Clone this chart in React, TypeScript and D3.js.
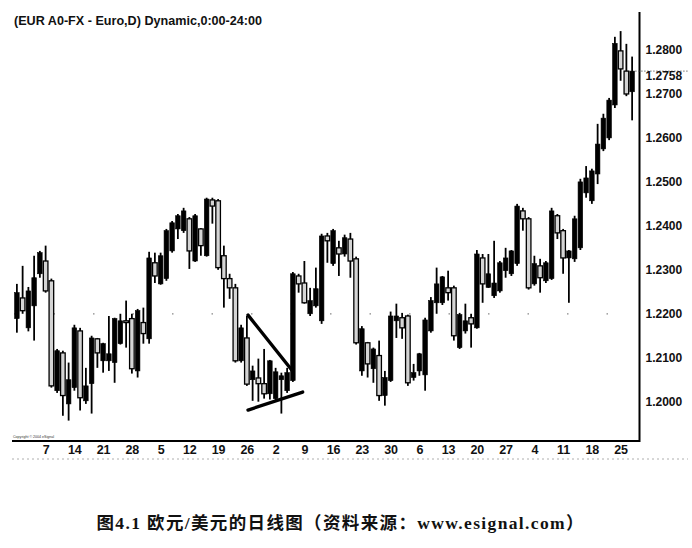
import React, { useEffect, useRef } from "react";
import * as d3 from "d3";

const W = 692;
const H = 548;

// EUR/USD daily, 2004-05-31 .. 2004-10-27
const opens = [
  1.2189, 1.2236, 1.2168, 1.2218, 1.2291, 1.2320, 1.2275, 1.2025, 1.2111, 1.1995,
  1.2032, 1.2161, 1.2002, 1.2041, 1.2143, 1.2093, 1.2093, 1.2089, 1.2132, 1.2184,
  1.2189, 1.2070, 1.2180, 1.2143, 1.2316, 1.2268, 1.2280, 1.2343, 1.2393, 1.2389,
  1.2416, 1.2320, 1.2393, 1.2332, 1.2459, 1.2457, 1.2332, 1.2280, 1.2259, 1.2093,
  1.2145, 1.2050, 1.2054, 1.2041, 1.2018, 1.2007, 1.2050, 1.2025, 1.2048, 1.2286,
  1.2270, 1.2200, 1.2218, 1.2184, 1.2377, 1.2314, 1.2350, 1.2336, 1.2370, 1.2325,
  1.2070, 1.2134, 1.2075, 1.2105, 1.2014, 1.2048, 1.2184, 1.2191, 1.2195, 1.2055,
  1.2070, 1.2061, 1.2161, 1.2225, 1.2225, 1.2259, 1.2259, 1.2123, 1.2161, 1.2191,
  1.2168, 1.2327, 1.2260, 1.2241, 1.2252, 1.2298, 1.2291, 1.2314, 1.2434, 1.2416,
  1.2268, 1.2309, 1.2275, 1.2280, 1.2423, 1.2389, 1.2327, 1.2325, 1.2350, 1.2475,
  1.2457, 1.2518, 1.2575, 1.2600, 1.2675, 1.2798, 1.2752, 1.2705,
];
const highs = [
  1.2268, 1.2309, 1.2261, 1.2332, 1.2343, 1.2355, 1.2280, 1.2120, 1.2116, 1.2089,
  1.2175, 1.2168, 1.2077, 1.2150, 1.2145, 1.2134, 1.2195, 1.2191, 1.2200, 1.2230,
  1.2200, 1.2211, 1.2214, 1.2341, 1.2339, 1.2339, 1.2393, 1.2411, 1.2427, 1.2441,
  1.2420, 1.2427, 1.2395, 1.2464, 1.2464, 1.2461, 1.2355, 1.2291, 1.2268, 1.2175,
  1.2195, 1.2082, 1.2098, 1.2120, 1.2095, 1.2077, 1.2066, 1.2077, 1.2295, 1.2291,
  1.2320, 1.2259, 1.2305, 1.2382, 1.2384, 1.2393, 1.2366, 1.2380, 1.2384, 1.2330,
  1.2172, 1.2136, 1.2123, 1.2139, 1.2070, 1.2205, 1.2223, 1.2202, 1.2198, 1.2086,
  1.2111, 1.2191, 1.2238, 1.2305, 1.2286, 1.2298, 1.2264, 1.2202, 1.2223, 1.2200,
  1.2345, 1.2336, 1.2336, 1.2366, 1.2320, 1.2350, 1.2345, 1.2450, 1.2441, 1.2420,
  1.2332, 1.2325, 1.2320, 1.2441, 1.2427, 1.2393, 1.2345, 1.2423, 1.2507, 1.2536,
  1.2530, 1.2632, 1.2655, 1.2691, 1.2830, 1.2843, 1.2814, 1.2785,
];
const lows = [
  1.2157, 1.2200, 1.2160, 1.2139, 1.2282, 1.2248, 1.2032, 1.2020, 1.1968, 1.1957,
  1.2025, 1.1980, 1.1995, 1.1973, 1.2077, 1.2066, 1.2070, 1.2043, 1.2130, 1.2123,
  1.2064, 1.2055, 1.2132, 1.2132, 1.2270, 1.2266, 1.2275, 1.2339, 1.2370, 1.2384,
  1.2302, 1.2318, 1.2332, 1.2330, 1.2405, 1.2300, 1.2214, 1.2234, 1.2089, 1.2089,
  1.2036, 1.2002, 1.2000, 1.2007, 1.2005, 1.2002, 1.1973, 1.2020, 1.2045, 1.2248,
  1.2223, 1.2195, 1.2214, 1.2177, 1.2316, 1.2309, 1.2286, 1.2330, 1.2282, 1.2130,
  1.2059, 1.2055, 1.2043, 1.2002, 1.1991, 1.2045, 1.2145, 1.2143, 1.2036, 1.2048,
  1.2059, 1.2025, 1.2157, 1.2200, 1.2220, 1.2230, 1.2139, 1.2120, 1.2155, 1.2123,
  1.2166, 1.2225, 1.2259, 1.2236, 1.2248, 1.2282, 1.2286, 1.2309, 1.2389, 1.2255,
  1.2264, 1.2248, 1.2270, 1.2277, 1.2370, 1.2291, 1.2225, 1.2318, 1.2345, 1.2464,
  1.2450, 1.2495, 1.2570, 1.2595, 1.2668, 1.2730, 1.2695, 1.2640,
];
const closes = [
  1.2248, 1.2207, 1.2252, 1.2282, 1.2339, 1.2252, 1.2036, 1.2116, 1.2014, 1.2050,
  1.2168, 1.2009, 1.2036, 1.2145, 1.2111, 1.2132, 1.2109, 1.2189, 1.2184, 1.2180,
  1.2075, 1.2207, 1.2155, 1.2327, 1.2286, 1.2332, 1.2389, 1.2407, 1.2423, 1.2434,
  1.2343, 1.2423, 1.2355, 1.2461, 1.2445, 1.2305, 1.2280, 1.2259, 1.2093, 1.2168,
  1.2040, 1.2070, 1.2041, 1.2018, 1.2093, 1.2068, 1.2059, 1.2066, 1.2291, 1.2268,
  1.2225, 1.2230, 1.2257, 1.2377, 1.2366, 1.2389, 1.2336, 1.2373, 1.2320, 1.2134,
  1.2166, 1.2086, 1.2120, 1.2014, 1.2055, 1.2195, 1.2195, 1.2168, 1.2043, 1.2066,
  1.2109, 1.2186, 1.2230, 1.2268, 1.2284, 1.2248, 1.2150, 1.2198, 1.2184, 1.2177,
  1.2336, 1.2268, 1.2291, 1.2270, 1.2316, 1.2327, 1.2343, 1.2445, 1.2416, 1.2259,
  1.2314, 1.2282, 1.2316, 1.2434, 1.2384, 1.2327, 1.2343, 1.2416, 1.2500, 1.2509,
  1.2525, 1.2586, 1.2645, 1.2686, 1.2815, 1.2757, 1.2700, 1.2752,
];

const tickLabels = [
  "7", "14", "21", "28", "5", "12", "19", "26", "2", "9", "16",
  "23", "30", "6", "13", "20", "27", "4", "11", "18", "25",
];
const priceTicks = [1.2, 1.21, 1.22, 1.23, 1.24, 1.25, 1.26, 1.27, 1.28];
const lastPriceLabel = "1.2758";

// hand-drawn triangle: [bar index, price]
const triangleUpper: [number, number][] = [[40.2, 1.2197], [47.8, 1.2072]];
const triangleLower: [number, number][] = [[40.2, 1.1981], [49.7, 1.2022]];

const title = "(EUR A0-FX - Euro,D) Dynamic,0:00-24:00";
const caption = "图4.1 欧元/美元的日线图（资料来源：www.esignal.com）";

const App: React.FC = () => {
  const svgRef = useRef<SVGSVGElement>(null);

  useEffect(() => {
    if (!svgRef.current) return;
    const svg = d3.select(svgRef.current);
    svg.selectAll("*").remove();

    const days = d3.timeDay
      .range(new Date(2004, 4, 31), new Date(2004, 9, 28))
      .filter(d => d.getDay() !== 0 && d.getDay() !== 6);
    const bars = days.map((d, i) => ({
      i,
      date: d,
      o: opens[i],
      h: highs[i],
      l: lows[i],
      c: closes[i],
    }));
    const mondays = bars.filter(b => b.date.getDay() === 1 && b.i > 0).map(b => b.i);

    const x = d3.scaleLinear().domain([-0.5, bars.length - 0.5]).range([14, 635]);
    const y = d3.scaleLinear().domain([1.2, 1.28]).range([401.7, 50]);
    const bw = 4.6;
    const font = "'Liberation Sans', Arial, sans-serif";

    svg.append("rect").attr("width", W).attr("height", H).attr("fill", "#fff");

    svg.append("text")
      .attr("x", 14)
      .attr("y", 24.5)
      .attr("font-family", font)
      .attr("font-weight", "bold")
      .attr("font-size", 12)
      .attr("textLength", 248)
      .attr("lengthAdjust", "spacingAndGlyphs")
      .attr("fill", "#111")
      .text(title);

    // faint dotted grid (scan remnants)
    svg.append("line")
      .attr("x1", 14).attr("x2", 635)
      .attr("y1", y(1.22)).attr("y2", y(1.22))
      .attr("stroke", "#888")
      .attr("stroke-dasharray", "1.5,38")
      .attr("stroke-width", 1.2);

    // candles
    const g = svg.append("g");
    const candle = g.selectAll("g").data(bars).join("g");
    candle.append("line")
      .attr("x1", d => x(d.i)).attr("x2", d => x(d.i))
      .attr("y1", d => y(d.h)).attr("y2", d => y(d.l))
      .attr("stroke", "#000")
      .attr("stroke-width", 1.8);
    candle.append("rect")
      .attr("x", d => x(d.i) - bw / 2)
      .attr("width", bw)
      .attr("y", d => y(Math.max(d.o, d.c)))
      .attr("height", d => Math.max(1.5, Math.abs(y(d.o) - y(d.c))))
      .attr("fill", d => (d.c >= d.o ? "#000" : "#d4d4d4"))
      .attr("stroke", "#000")
      .attr("stroke-width", d => (d.c >= d.o ? 0.6 : 1.3));

    // triangle lines
    const line = d3.line<[number, number]>().x(d => x(d[0])).y(d => y(d[1]));
    [triangleUpper, triangleLower].forEach(seg => {
      svg.append("path")
        .attr("d", line(seg))
        .attr("fill", "none")
        .attr("stroke", "#000")
        .attr("stroke-width", 3.4)
        .attr("stroke-linecap", "round");
    });

    // right price axis
    const yAxis = svg.append("g")
      .attr("transform", "translate(639.5,0)")
      .call(
        d3.axisRight(y)
          .tickValues(priceTicks)
          .tickFormat(d3.format(".4f") as any)
          .tickSize(0)
          .tickPadding(6)
      );
    yAxis.select(".domain").remove();
    yAxis.selectAll("text")
      .attr("font-family", font)
      .attr("font-weight", "bold")
      .attr("font-size", 12)
      .attr("fill", "#111");
    svg.append("line")
      .attr("x1", 639.5).attr("x2", 639.5)
      .attr("y1", 12).attr("y2", 442)
      .attr("stroke", "#000").attr("stroke-width", 2);

    // last price marker
    const ly = y(closes[closes.length - 1]);
    svg.append("line")
      .attr("x1", x(bars.length - 1) + 3).attr("x2", 688)
      .attr("y1", ly).attr("y2", ly)
      .attr("stroke", "#555")
      .attr("stroke-dasharray", "1.5,1.5")
      .attr("stroke-width", 0.8);
    svg.append("text")
      .attr("x", 645.5)
      .attr("y", ly + 9)
      .attr("font-family", font)
      .attr("font-weight", "bold")
      .attr("font-size", 12)
      .attr("fill", "#111")
      .text(lastPriceLabel);

    // bottom date axis
    const xAxis = svg.append("g")
      .attr("transform", "translate(0,441)")
      .call(
        d3.axisBottom(x)
          .tickValues(mondays)
          .tickFormat((_, k) => tickLabels[k])
          .tickSize(0)
          .tickPadding(4)
      );
    xAxis.select(".domain").remove();
    xAxis.selectAll("text")
      .attr("font-family", font)
      .attr("font-weight", "bold")
      .attr("font-size", 12.5)
      .attr("fill", "#111");
    svg.append("line")
      .attr("x1", 12).attr("x2", 640)
      .attr("y1", 441).attr("y2", 441)
      .attr("stroke", "#000").attr("stroke-width", 2);
    svg.append("line")
      .attr("x1", 12).attr("x2", 688)
      .attr("y1", 459).attr("y2", 459)
      .attr("stroke", "#999")
      .attr("stroke-dasharray", "2,3")
      .attr("stroke-width", 0.8);

    svg.append("text")
      .attr("x", 13)
      .attr("y", 437.5)
      .attr("font-family", font)
      .attr("font-size", 3.6)
      .attr("fill", "#333")
      .text("Copyright © 2004 eSignal");

    svg.append("text")
      .attr("x", W / 2 - 6)
      .attr("y", 529)
      .attr("text-anchor", "middle")
      .attr("font-family", "'Liberation Serif', 'Noto Sans CJK SC', serif")
      .attr("font-weight", "bold")
      .attr("font-size", 17.5)
      .attr("textLength", 487)
      .attr("lengthAdjust", "spacing")
      .attr("fill", "#111")
      .text(caption);
  }, []);

  return (
    <div style={{ position: "absolute", left: 0, top: 0 }}>
      <svg ref={svgRef} width={W} height={H} style={{ display: "block" }} />
    </div>
  );
};

export default App;
